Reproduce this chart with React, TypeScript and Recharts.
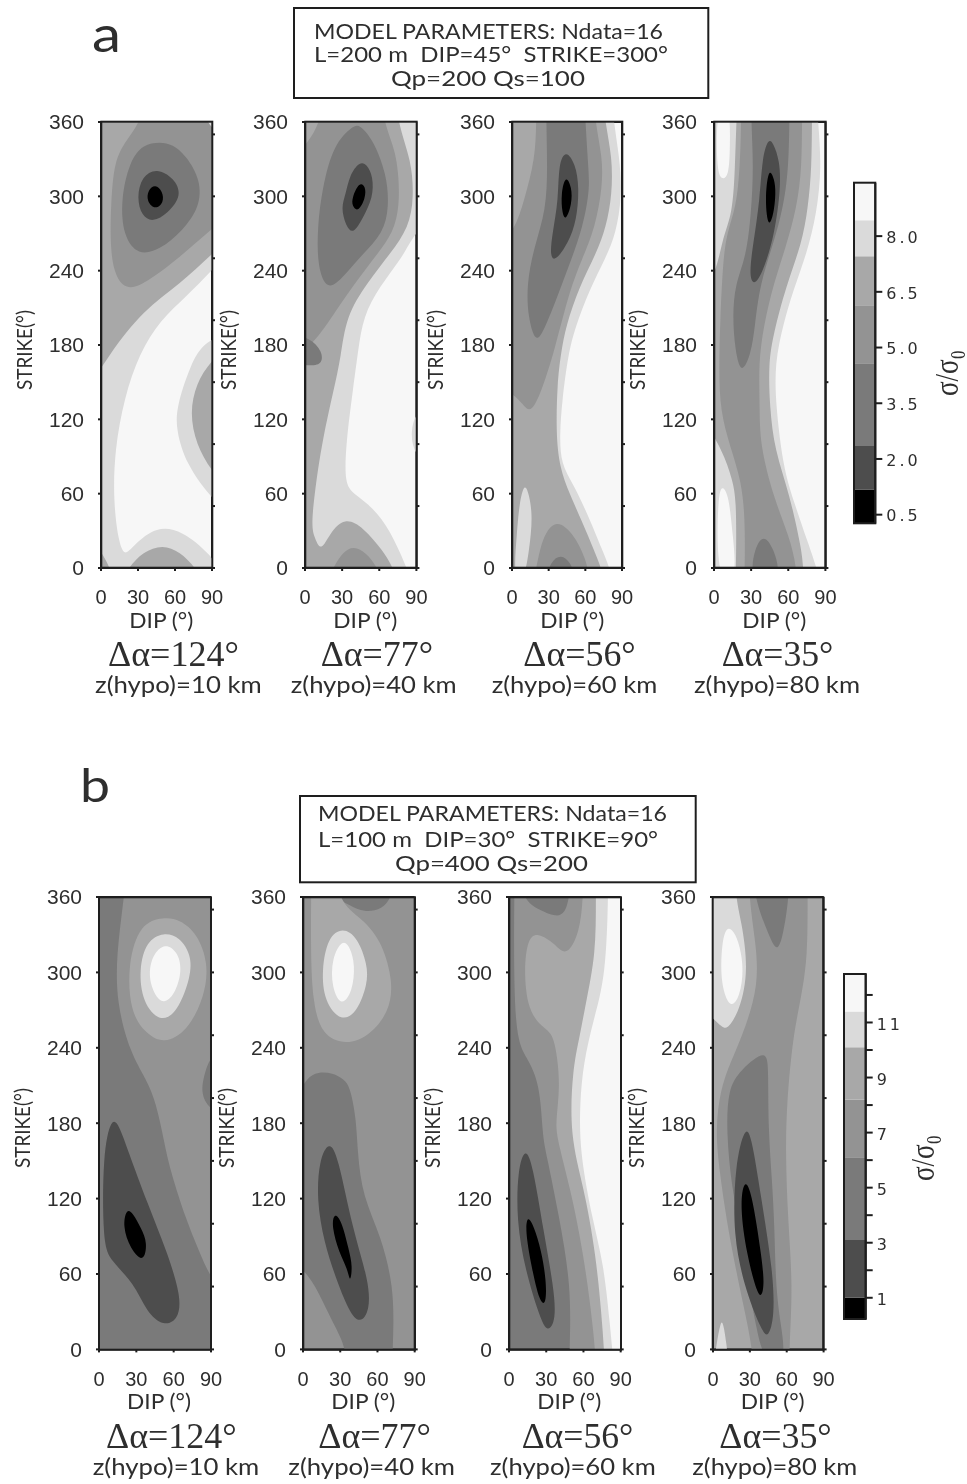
import { ScatterChart, Scatter, XAxis, YAxis, ReferenceArea, BarChart, Bar } from 'recharts';

type Pt = [number, number]; // [dip, strike]
type Layer = [number, Pt[]]; // [grey level, contour]

const shades = ['#000000', '#4d4d4d', '#7a7a7a', '#939393', '#a8a8a8', '#dadada', '#f7f7f7'];

const dipTicks = [0, 30, 60, 90];
const strikeTicks = [0, 60, 120, 180, 240, 300, 360];
const topTicks = [0, 50];
const rightTicks = [0, 50, 100, 150, 200, 250, 300, 350];

// ---- panel a, hypocentre 10 km
const a1Light: Pt[] = [[-30, 400], [120, 400], [115, 268], [90, 240], [69, 219], [48, 200], [31, 173], [19, 138], [11, 95], [10, 55], [14, 22], [19, 9], [26, 18], [45, 34], [66, 30], [88, 12], [105, -12], [-30, -30]];
const a1Halo: Pt[] = [[110, 195], [83, 182], [73, 165], [61, 130], [61, 111], [69, 84], [90, 55], [110, 40]];
const a1Grey: Pt[] = [[-30, 400], [80, 400], [84, 365], [92, 345], [115, 320], [115, 275], [90, 254], [64, 229], [34, 208], [7, 173], [-10, 145], [-30, 130]];
const a1Bump: Pt[] = [[14, -15], [22, 0], [34, 13], [50, 19], [64, 13], [77, 0], [85, -15]];
const a1Corner: Pt[] = [[-15, -15], [-15, 30], [0, 14], [5, 4], [10, -6]];
const a1Right: Pt[] = [[115, 190], [90, 169], [77, 149], [72, 125], [77, 100], [90, 77], [115, 50]];
const a1Ring: Pt[] = [[40, 400], [34, 362], [20, 345], [11, 329], [8, 297], [7, 243], [20, 222], [39, 232], [64, 251], [88, 272], [115, 295], [115, 340], [92, 352], [82, 365], [84, 400]];
const a1Mid: Pt[] = [[48, 344], [34, 342], [23, 328], [16, 297], [18, 268], [30, 252], [48, 257], [66, 272], [80, 291], [81, 313], [69, 333], [58, 342]];
const a1Dark: Pt[] = [[45, 323], [33, 316], [29, 299], [33, 284], [42, 279], [54, 286], [66, 301], [59, 315]];
const a1Core: Pt[] = [[44, 310], [38, 305], [37, 296], [44, 289], [51, 295], [50, 304]];

// ---- panel a, hypocentre 40 km
const a2Light: Pt[] = [[-30, 400], [95, 400], [115, 300], [100, 280], [87, 268], [79, 251], [60, 227], [47, 203], [43, 176], [39, 146], [33, 100], [32, 68], [39, 60], [55, 49], [69, 30], [81, 3], [90, -20], [-30, -30]];
const a2Patch: Pt[] = [[110, 135], [90, 128], [85, 110], [88, 90], [110, 75]];
const a2Grey: Pt[] = [[-30, 400], [70, 400], [75, 358], [86, 329], [88, 299], [84, 275], [69, 254], [50, 230], [33, 203], [29, 170], [23, 143], [14, 103], [8, 63], [5, 33], [8, 24], [13, 13], [20, 28], [32, 41], [47, 33], [63, 14], [71, 1], [78, -20], [-30, -30]];
const a2Ring: Pt[] = [[20, 400], [13, 362], [4, 345], [-15, 325], [-30, 250], [-30, 150], [8, 181], [25, 208], [44, 235], [63, 259], [73, 275], [77, 299], [74, 337], [63, 359], [60, 400]];
const a2Left: Pt[] = [[-15, 190], [4, 186], [14, 175], [14, 165], [6, 163], [-15, 165]];
const a2Mid: Pt[] = [[39, 357], [23, 342], [14, 307], [10, 275], [10, 243], [18, 223], [31, 235], [47, 254], [63, 270], [68, 291], [66, 318], [55, 346], [44, 358]];
const a2Dark: Pt[] = [[44, 328], [36, 317], [33, 302], [29, 291], [33, 276], [39, 269], [47, 283], [55, 299], [55, 316], [50, 326]];
const a2Core: Pt[] = [[44, 312], [38, 299], [38, 292], [43, 287], [49, 299], [49, 308]];
const a2Bump: Pt[] = [[18, -12], [24, 3], [31, 13], [39, 18], [50, 12], [58, 1], [64, -12]];

// ---- panel a, hypocentre 60 km
const a3Light: Pt[] = [[-30, 400], [80, 400], [83, 360], [88, 332], [90, 300], [85, 270], [77, 251], [63, 224], [52, 195], [46, 173], [41, 135], [39, 108], [40, 84], [50, 68], [63, 41], [74, 14], [80, 0], [85, -20], [-30, -30]];
const a3Grey: Pt[] = [[-30, 400], [72, 400], [76, 360], [82, 332], [82, 302], [77, 275], [69, 254], [55, 227], [44, 195], [40, 173], [37, 149], [36, 108], [39, 81], [47, 60], [58, 36], [72, 3], [78, -15], [-30, -30]];
const a3Island: Pt[] = [[1, -10], [4, 28], [6, 52], [10, 69], [14, 60], [17, 41], [14, 14], [10, -10]];
const a3Ring: Pt[] = [[20, 400], [20, 362], [19, 330], [10, 297], [2, 272], [-15, 255], [-30, 200], [-15, 148], [6, 138], [14, 123], [23, 139], [35, 176], [47, 224], [58, 251], [68, 275], [74, 307], [74, 332], [68, 359], [65, 400]];
const a3Mid: Pt[] = [[28, 400], [28, 360], [29, 324], [28, 289], [18, 259], [12, 229], [13, 203], [19, 182], [25, 189], [36, 216], [47, 245], [58, 275], [64, 307], [62, 326], [58, 400]];
const a3Bump: Pt[] = [[16, -15], [21, 5], [25, 25], [36, 40], [50, 28], [60, 9], [66, -15]];
const a3BumpCore: Pt[] = [[26, -12], [32, 6], [40, 11], [48, 5], [54, -12]];
const a3Dark: Pt[] = [[44, 338], [38, 326], [38, 297], [33, 270], [31, 252], [35, 247], [46, 262], [53, 281], [55, 307], [52, 326]];
const a3Core: Pt[] = [[44, 318], [40, 302], [41, 286], [44, 280], [49, 294], [49, 307]];

// ---- panel a, hypocentre 80 km
const a4Light: Pt[] = [[-30, 400], [82, 400], [84, 360], [87, 324], [83, 286], [75, 254], [64, 224], [56, 197], [49, 165], [50, 130], [56, 81], [64, 55], [76, 20], [83, 0], [88, -20], [-30, -30]];
const a4TopWhite: Pt[] = [[2, 375], [13, 375], [13, 340], [12, 316], [6, 313], [2, 322]];
const a4LowWhite: Pt[] = [[2, -12], [3, 60], [7, 67], [12, 58], [15, 28], [19, -12]];
const a4Grey: Pt[] = [[20, 400], [18, 360], [17, 324], [15, 286], [7, 267], [3, 243], [-10, 216], [-30, 170], [-10, 122], [7, 95], [15, 71], [18, 55], [18, 10], [17, -30], [74, -30], [72, 0], [71, 14], [61, 60], [49, 95], [45, 130], [44, 165], [48, 189], [58, 227], [71, 262], [76, 291], [79, 324], [79, 360], [80, 400]];
const a4Ring: Pt[] = [[22, 400], [22, 360], [21, 324], [18, 291], [10, 270], [7, 243], [5, 200], [4, 160], [5, 127], [13, 98], [22, 71], [25, 41], [25, 5], [24, -30], [68, -30], [67, 0], [61, 25], [48, 57], [37, 100], [37, 130], [36, 165], [40, 195], [48, 229], [58, 259], [67, 291], [71, 324], [71, 360], [72, 400]];
const a4Mid: Pt[] = [[30, 400], [30, 359], [32, 324], [30, 286], [26, 251], [17, 229], [15, 203], [17, 176], [22, 155], [30, 173], [33, 195], [37, 229], [48, 262], [56, 291], [61, 326], [61, 400]];
const a4Bump: Pt[] = [[28, -12], [33, 17], [40, 27], [48, 17], [56, -12]];
const a4Dark: Pt[] = [[44, 347], [39, 332], [37, 297], [32, 264], [28, 235], [33, 227], [41, 243], [49, 270], [54, 307], [53, 329], [48, 343]];
const a4Core: Pt[] = [[44, 323], [41, 297], [44, 272], [49, 289], [50, 307], [48, 316]];

// ---- panel b, hypocentre 10 km
const b1Dim: Pt[] = [[-30, 400], [24, 400], [20, 358], [14, 315], [14, 276], [25, 236], [38, 215], [46, 196], [52, 167], [57, 143], [70, 103], [81, 77], [89, 58], [110, 30], [120, -30], [-30, -30]];
const b1Edge: Pt[] = [[110, 245], [90, 236], [84, 217], [82, 204], [88, 191], [110, 180]];
const b1Ring: Pt[] = [[52, 344], [33, 339], [23, 307], [25, 268], [38, 251], [52, 243], [71, 253], [85, 281], [88, 307], [79, 331], [65, 342]];
const b1Pale: Pt[] = [[52, 332], [38, 325], [32, 302], [35, 276], [49, 260], [63, 268], [74, 297], [74, 314], [65, 328]];
const b1Glow: Pt[] = [[52, 324], [41, 311], [40, 291], [50, 273], [61, 282], [67, 302], [63, 317]];
const b1Dark: Pt[] = [[10, 185], [3, 156], [3, 85], [9, 71], [28, 53], [38, 30], [52, 18], [64, 24], [66, 42], [55, 77], [39, 116], [23, 159], [16, 179]];
const b1Core: Pt[] = [[22, 112], [19, 98], [25, 80], [36, 68], [39, 85], [34, 96], [27, 109]];

// ---- panel b, hypocentre 40 km
const b2Top: Pt[] = [[15, 385], [20, 362], [37, 354], [44, 350], [55, 348], [66, 352], [72, 362], [76, 385]];
const b2Ring: Pt[] = [[7, 400], [25, 400], [27, 356], [48, 343], [64, 324], [73, 291], [69, 268], [54, 250], [35, 242], [15, 250], [8, 276], [6, 315]];
const b2Pale: Pt[] = [[32, 336], [20, 328], [15, 302], [17, 277], [31, 260], [44, 269], [52, 291], [52, 306], [44, 328]];
const b2Glow: Pt[] = [[32, 327], [23, 311], [23, 288], [31, 272], [40, 285], [42, 306], [38, 320]];
const b2Dim: Pt[] = [[-30, 190], [-3, 204], [3, 216], [12, 221], [24, 220], [33, 215], [38, 209], [43, 183], [44, 156], [48, 122], [63, 90], [73, 50], [73, 13], [71, -30], [37, -30], [35, 2], [24, 21], [13, 45], [0, 66], [-30, 85]];
const b2Dark: Pt[] = [[21, 166], [13, 151], [11, 119], [17, 85], [26, 58], [37, 30], [46, 20], [54, 31], [53, 55], [40, 95], [28, 155]];
const b2Core: Pt[] = [[25, 109], [23, 98], [29, 77], [36, 64], [38, 52], [40, 66], [37, 79], [31, 103]];

// ---- panel b, hypocentre 60 km
const b3Ring: Pt[] = [[5, 400], [10, 358], [24, 350], [38, 344], [45, 347], [49, 360], [52, 400], [120, 400], [120, -30], [48, -30], [49, 2], [50, 50], [41, 103], [30, 156], [27, 170], [25, 212], [14, 233], [4, 249], [4, 355]];
const b3Grey: Pt[] = [[60, 400], [60, 362], [57, 331], [46, 312], [37, 323], [23, 332], [15, 327], [12, 302], [15, 270], [27, 256], [35, 252], [39, 233], [41, 209], [38, 183], [38, 170], [49, 130], [60, 77], [69, 10], [71, -30], [120, -30], [120, 400]];
const b3Light: Pt[] = [[70, 400], [70, 359], [70, 315], [62, 276], [57, 249], [51, 222], [49, 170], [60, 130], [70, 77], [76, 13], [78, -30], [120, -30], [120, 400]];
const b3White: Pt[] = [[80, 400], [80, 362], [78, 297], [68, 262], [60, 228], [57, 196], [57, 156], [68, 100], [76, 69], [81, 24], [86, -30], [120, -30], [120, 400]];
const b3Dark: Pt[] = [[13, 161], [7, 143], [6, 103], [13, 63], [25, 25], [31, 13], [38, 23], [36, 50], [28, 93], [19, 148]];
const b3Core: Pt[] = [[15, 107], [13, 95], [18, 66], [25, 36], [30, 36], [30, 55], [26, 79], [20, 98]];

// ---- panel b, hypocentre 80 km
const b4TopPale: Pt[] = [[-30, 400], [18, 400], [18, 360], [23, 342], [29, 302], [22, 270], [11, 253], [6, 258], [-30, 290]];
const b4Glow: Pt[] = [[11, 337], [7, 323], [6, 291], [14, 270], [22, 281], [25, 302], [22, 321], [17, 333]];
const b4Ring: Pt[] = [[29, 400], [29, 359], [35, 323], [37, 291], [27, 257], [14, 228], [6, 207], [2, 175], [5, 143], [13, 90], [25, 34], [32, 2], [34, -30], [62, -30], [62, 2], [65, 50], [61, 103], [59, 156], [60, 196], [65, 249], [72, 281], [77, 313], [77, 359], [77, 400]];
const b4Top: Pt[] = [[31, 400], [33, 360], [45, 331], [52, 315], [57, 329], [62, 360], [63, 400]];
const b4Mid: Pt[] = [[44, 240], [22, 222], [12, 207], [11, 172], [15, 130], [23, 90], [29, 50], [36, 13], [42, -10], [60, -10], [55, 20], [51, 50], [50, 100], [48, 135], [45, 175], [45, 222]];
const b4Dark: Pt[] = [[26, 177], [18, 148], [16, 90], [27, 45], [40, 14], [45, 9], [50, 26], [49, 61], [39, 122], [31, 172]];
const b4Core: Pt[] = [[25, 135], [22, 114], [27, 77], [38, 36], [42, 50], [40, 71], [31, 129]];
const b4Spike: Pt[] = [[0, -15], [3, 5], [6, 21], [8, 23], [11, 5], [13, -15]];

const panelA1: Layer[] = [[5, a1Light], [5, a1Halo], [4, a1Grey], [4, a1Bump], [4, a1Corner], [4, a1Right], [3, a1Ring], [2, a1Mid], [1, a1Dark], [0, a1Core]];
const panelA2: Layer[] = [[5, a2Light], [5, a2Patch], [4, a2Grey], [3, a2Ring], [3, a2Bump], [2, a2Left], [2, a2Mid], [1, a2Dark], [0, a2Core]];
const panelA3: Layer[] = [[5, a3Light], [4, a3Grey], [5, a3Island], [3, a3Ring], [3, a3Bump], [2, a3BumpCore], [2, a3Mid], [1, a3Dark], [0, a3Core]];
const panelA4: Layer[] = [[5, a4Light], [6, a4TopWhite], [6, a4LowWhite], [4, a4Grey], [3, a4Ring], [2, a4Mid], [2, a4Bump], [1, a4Dark], [0, a4Core]];
const panelB1: Layer[] = [[2, b1Dim], [2, b1Edge], [4, b1Ring], [5, b1Pale], [6, b1Glow], [1, b1Dark], [0, b1Core]];
const panelB2: Layer[] = [[2, b2Top], [4, b2Ring], [5, b2Pale], [6, b2Glow], [2, b2Dim], [1, b2Dark], [0, b2Core]];
const panelB3: Layer[] = [[3, b3Ring], [4, b3Grey], [5, b3Light], [6, b3White], [1, b3Dark], [0, b3Core]];
const panelB4: Layer[] = [[5, b4TopPale], [6, b4Glow], [3, b4Ring], [2, b4Top], [2, b4Mid], [1, b4Dark], [0, b4Core], [5, b4Spike]];

// colour bars: band limits and their tick values
const barEdgesA = [0, 1.18, 2.35, 4.58, 6.14, 7.46, 8.43, 9.43];
const barTicksA = [0.5, 2, 3.5, 5, 6.5, 8];
const barEdgesB = [0, 1, 3.1, 6.1, 8.2, 10.1, 11.4, 12.76];
const barTicksB = [1, 2, 3, 4, 5, 6, 7, 8, 9, 10, 11, 12];

// captions
const deltas = ['Δα=124°', 'Δα=77°', 'Δα=56°', 'Δα=35°'];
const depths = ['z(hypo)=10 km', 'z(hypo)=40 km', 'z(hypo)=60 km', 'z(hypo)=80 km'];

const LEFT = 96;
const RIGHT = 12;
const TOP = 12;
const BOTTOM = 60;
const BAR_PAD = 14;
const INK = '#1e1e1e';
const LABEL_INK = '#2e2e2e';
const GEO = 'Lato, "Open Sans", sans-serif';
const ARIAL = '"Liberation Sans", Arial, sans-serif';
const SERIF = '"Liberation Serif", "DejaVu Serif", serif';

const NoMark = () => null;

// far off-plot points are repeated so the closed curve runs through them
const toRows = (pts: Pt[]) =>
    pts.flatMap(([dip, strike]) => {
        const row = { dip, strike };
        const far = dip <= -30 || dip >= 120 || strike >= 400 || strike <= -30;
        return far ? [row, row, row] : [row];
    });

function Panel({ x, y, w, h, base, layers }: { x: number; y: number; w: number; h: number; base: number; layers: Layer[] }) {
    return (
        <div style={{ position: 'absolute', left: x - LEFT, top: y - TOP }}>
            <ScatterChart width={w + LEFT + RIGHT} height={h + TOP + BOTTOM} margin={{ top: 0, right: 0, bottom: 0, left: 0 }}>
                <XAxis
                    type="number"
                    dataKey="dip"
                    domain={[0, 90]}
                    ticks={dipTicks}
                    allowDataOverflow
                    interval={0}
                    height={BOTTOM}
                    tickSize={3}
                    tickMargin={19}
                    stroke={INK}
                    strokeWidth={2}
                    tick={{ fill: LABEL_INK, fontSize: 20, fontFamily: ARIAL }}
                />
                <XAxis
                    xAxisId="top"
                    orientation="top"
                    type="number"
                    domain={[0, 90]}
                    ticks={topTicks}
                    allowDataOverflow
                    height={TOP}
                    tickSize={3}
                    tickFormatter={() => ''}
                    stroke={INK}
                    strokeWidth={2}
                />
                <YAxis
                    type="number"
                    dataKey="strike"
                    domain={[0, 360]}
                    ticks={strikeTicks}
                    allowDataOverflow
                    interval={0}
                    width={LEFT}
                    tickSize={3}
                    tickMargin={14}
                    stroke={INK}
                    strokeWidth={2}
                    tick={{ fill: LABEL_INK, fontSize: 21, fontFamily: ARIAL }}
                />
                <YAxis
                    yAxisId="right"
                    orientation="right"
                    type="number"
                    domain={[0, 360]}
                    ticks={rightTicks}
                    allowDataOverflow
                    interval={0}
                    width={RIGHT}
                    tickSize={3}
                    tickFormatter={() => ''}
                    stroke={INK}
                    strokeWidth={2}
                />
                <ReferenceArea x1={0} x2={90} y1={0} y2={360} fill={shades[base]} fillOpacity={1} stroke="none" />
                {layers.map(([level, pts], i) => (
                    <Scatter
                        key={i}
                        data={toRows(pts)}
                        shape={NoMark}
                        fill={shades[level]}
                        line={{ fill: shades[level], stroke: 'none' }}
                        lineJointType="basisClosed"
                        isAnimationActive={false}
                    />
                ))}
            </ScatterChart>
        </div>
    );
}

function ColorBar({ x, y, w, h, low, edges, ticks, labelled, dy }: { x: number; y: number; w: number; h: number; low: number; edges: number[]; ticks: number[]; labelled: (v: number) => string; dy: number }) {
    const row: Record<string, number | string> = { name: 'bar' };
    edges.slice(1).forEach((top, i) => {
        row['b' + i] = top - edges[i];
    });
    return (
        <div style={{ position: 'absolute', left: x, top: y - BAR_PAD }}>
            <BarChart width={w + 60} height={h + 2 * BAR_PAD} data={[row]} barCategoryGap={0} margin={{ top: BAR_PAD, right: 0, bottom: BAR_PAD, left: 0 }}>
                <XAxis dataKey="name" hide />
                <YAxis
                    orientation="right"
                    type="number"
                    domain={[low, edges[edges.length - 1]]}
                    ticks={ticks}
                    allowDataOverflow
                    interval={0}
                    width={60}
                    tickSize={7}
                    tickMargin={4}
                    tickFormatter={labelled}
                    stroke={INK}
                    strokeWidth={2}
                    tick={{ fill: LABEL_INK, fontSize: 16, fontFamily: '"DejaVu Sans", sans-serif', letterSpacing: 3, dy }}
                />
                {edges.slice(1).map((_, i) => (
                    <Bar key={i} dataKey={'b' + i} stackId="bar" fill={shades[i]} isAnimationActive={false} />
                ))}
            </BarChart>
        </div>
    );
}

function Caption({ x, to, y, size, family, children }: { x: number; to: number; y: number; size: number; family: string; children: string }) {
    return (
        <text x={x} y={y} fontSize={size} fontFamily={family} fill={LABEL_INK} textLength={to - x} lengthAdjust="spacingAndGlyphs">
            {children}
        </text>
    );
}

function VerticalLabel({ x, y, length, size, family, children }: { x: number; y: number; length: number; size: number; family: string; children: string }) {
    return (
        <text
            transform={`translate(${x} ${y}) rotate(-90)`}
            textAnchor="middle"
            fontSize={size}
            fontFamily={family}
            fill={LABEL_INK}
            textLength={length}
            lengthAdjust="spacingAndGlyphs"
        >
            {children}
        </text>
    );
}

const colsA = [101.3, 305.3, 512.3, 714.3];
const widthsA = [111, 111.4, 110, 111.4];
const colsB = [99, 303.3, 509.3, 712.7];
const widthsB = [112, 111.7, 111.7, 110.6];
const basesB = [3, 3, 2, 4];
const deltaSpansA: [number, number][] = [[108, 239], [320.7, 433], [523.3, 635.7], [721.7, 833.3]];
const depthSpansA: [number, number][] = [[95, 261.7], [290.7, 456.7], [491.7, 657.3], [694, 860]];
const deltaSpansB: [number, number][] = [[106, 236.7], [318.3, 431], [521.7, 633.3], [719.3, 831.7]];
const depthSpansB: [number, number][] = [[92.7, 259.3], [288.3, 455], [490, 655.7], [692.3, 857.3]];

export default function App() {
    const panelsA = [panelA1, panelA2, panelA3, panelA4];
    const panelsB = [panelB1, panelB2, panelB3, panelB4];
    return (
        <div style={{ position: 'absolute', left: 0, top: 0, width: 967, height: 1484, background: '#fff', overflow: 'hidden', filter: 'blur(0.7px)' }}>
            {panelsA.map((layers, i) => (
                <Panel key={i} x={colsA[i]} y={121.7} w={widthsA[i]} h={446} base={6} layers={layers} />
            ))}
            {panelsB.map((layers, i) => (
                <Panel key={i} x={colsB[i]} y={897.3} w={widthsB[i]} h={452.4} base={basesB[i]} layers={layers} />
            ))}
            <ColorBar x={854} y={182.7} w={21.3} h={340.6} low={0.26} edges={barEdgesA} ticks={barTicksA} labelled={(v) => v.toFixed(1)} dy={1} />
            <ColorBar x={844} y={974} w={21.7} h={345} low={0.23} edges={barEdgesB} ticks={barTicksB} labelled={(v) => (v % 2 ? String(v) : '')} dy={2} />

            <svg width={967} height={1484} style={{ position: 'absolute', left: 0, top: 0 }}>
                {colsA.map((c, i) => (
                    <rect key={i} x={c} y={121.7} width={widthsA[i]} height={446} fill="none" stroke={INK} strokeWidth={2} />
                ))}
                {colsB.map((c, i) => (
                    <rect key={i} x={c} y={897.3} width={widthsB[i]} height={452.4} fill="none" stroke={INK} strokeWidth={2} />
                ))}
                <rect x={854} y={182.7} width={21.3} height={340.6} fill="none" stroke={INK} strokeWidth={2} />
                <rect x={844} y={974} width={21.7} height={345} fill="none" stroke={INK} strokeWidth={2} />
                <rect x={294} y={8} width={414.3} height={90} fill="none" stroke={INK} strokeWidth={2} />
                <rect x={300} y={796} width={395.7} height={86.3} fill="none" stroke={INK} strokeWidth={2} />

                <Caption x={92} to={121} y={52} size={50} family={GEO}>a</Caption>
                <Caption x={80} to={110} y={802} size={46} family={GEO}>b</Caption>

                <Caption x={314} to={663} y={39} size={22} family={GEO}>MODEL PARAMETERS: Ndata=16</Caption>
                <Caption x={314} to={668} y={62} size={22} family={GEO}>{'L=200 m\u00a0\u00a0DIP=45°\u00a0\u00a0STRIKE=300°'}</Caption>
                <Caption x={391} to={585} y={86} size={22} family={GEO}>Qp=200 Qs=100</Caption>
                <Caption x={318} to={667} y={821} size={22} family={GEO}>MODEL PARAMETERS: Ndata=16</Caption>
                <Caption x={318} to={658} y={847} size={22} family={GEO}>{'L=100 m\u00a0\u00a0DIP=30°\u00a0\u00a0STRIKE=90°'}</Caption>
                <Caption x={395} to={588} y={871} size={22} family={GEO}>Qp=400 Qs=200</Caption>

                {colsA.map((c, i) => (
                    <g key={i}>
                        <Caption x={c + 28} to={c + 92} y={628} size={21} family={GEO}>DIP (°)</Caption>
                        <VerticalLabel x={c - 69} y={350} length={80} size={21} family={GEO}>STRIKE(°)</VerticalLabel>
                        <Caption x={deltaSpansA[i][0]} to={deltaSpansA[i][1]} y={666} size={35} family={SERIF}>{deltas[i]}</Caption>
                        <Caption x={depthSpansA[i][0]} to={depthSpansA[i][1]} y={693} size={23} family={GEO}>{depths[i]}</Caption>
                    </g>
                ))}
                {colsB.map((c, i) => (
                    <g key={i}>
                        <Caption x={c + 28} to={c + 92} y={1409} size={21} family={GEO}>DIP (°)</Caption>
                        <VerticalLabel x={c - 69} y={1128} length={80} size={21} family={GEO}>STRIKE(°)</VerticalLabel>
                        <Caption x={deltaSpansB[i][0]} to={deltaSpansB[i][1]} y={1448} size={35} family={SERIF}>{deltas[i]}</Caption>
                        <Caption x={depthSpansB[i][0]} to={depthSpansB[i][1]} y={1475} size={23} family={GEO}>{depths[i]}</Caption>
                    </g>
                ))}
                <VerticalLabel x={958} y={373} length={46} size={34} family={SERIF}>σ/σ₀</VerticalLabel>
                <VerticalLabel x={934} y={1158} length={46} size={34} family={SERIF}>σ/σ₀</VerticalLabel>
            </svg>
        </div>
    );
}
